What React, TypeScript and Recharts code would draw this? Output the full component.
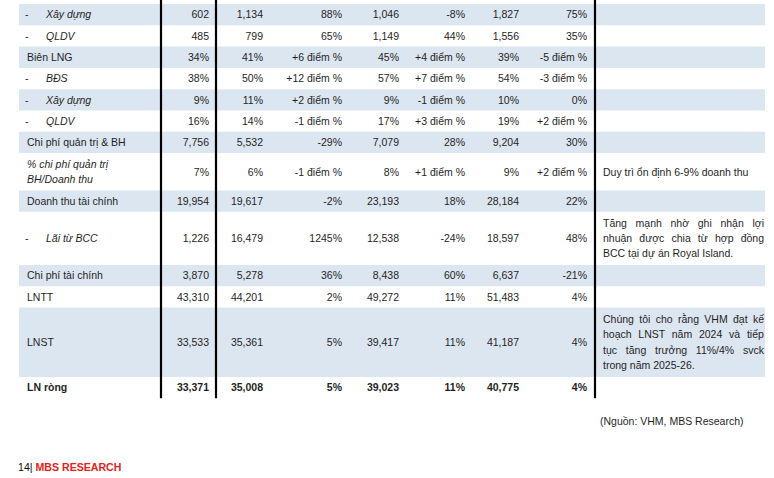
import { ComposedChart, XAxis, YAxis, Scatter, ReferenceArea, ReferenceLine } from 'recharts';

// ---- data ----
const rowLabels = [
  ['Xây dựng'], ['QLDV'], ['Biên LNG'], ['BĐS'], ['Xây dựng'], ['QLDV'],
  ['Chi phí quản trị & BH'], ['% chi phí quản trị', 'BH/Doanh thu'], ['Doanh thu tài chính'],
  ['Lãi từ BCC'], ['Chi phí tài chính'], ['LNTT'], ['LNST'], ['LN ròng'],
];
// sub = dash + italic, ratio = italic, total = bold
const rowKinds = ['sub', 'sub', 'main', 'sub', 'sub', 'sub', 'main', 'ratio', 'main', 'sub', 'main', 'main', 'main', 'total'];

const v2023 = ['602', '485', '34%', '38%', '9%', '16%', '7,756', '7%', '19,954', '1,226', '3,870', '43,310', '33,533', '33,371'];
const v2024 = ['1,134', '799', '41%', '50%', '11%', '14%', '5,532', '6%', '19,617', '16,479', '5,278', '44,201', '35,361', '35,008'];
const yoy2024 = ['88%', '65%', '+6 điểm %', '+12 điểm %', '+2 điểm %', '-1 điểm %', '-29%', '-1 điểm %', '-2%', '1245%', '36%', '2%', '5%', '5%'];
const v2025 = ['1,046', '1,149', '45%', '57%', '9%', '17%', '7,079', '8%', '23,193', '12,538', '8,438', '49,272', '39,417', '39,023'];
const yoy2025 = ['-8%', '44%', '+4 điểm %', '+7 điểm %', '-1 điểm %', '+3 điểm %', '28%', '+1 điểm %', '18%', '-24%', '60%', '11%', '11%', '11%'];
const v2026 = ['1,827', '1,556', '39%', '54%', '10%', '19%', '9,204', '9%', '28,184', '18,597', '6,637', '51,483', '41,187', '40,775'];
const yoy2026 = ['75%', '35%', '-5 điểm %', '-3 điểm %', '0%', '+2 điểm %', '30%', '+2 điểm %', '22%', '48%', '-21%', '4%', '4%', '4%'];
const valueColumns = [v2023, v2024, yoy2024, v2025, yoy2025, v2026, yoy2026];

const rowNotes: string[][] = [
  [], [], [], [], [], [], [],
  ['Duy trì ổn định 6-9% doanh thu'],
  [],
  ['Tăng mạnh nhờ ghi nhận lợi', 'nhuận được chia từ hợp đồng', 'BCC tại dự án Royal Island.'],
  [], [],
  ['Chúng tôi cho rằng VHM đạt kế', 'hoạch LNST năm 2024 và tiếp', 'tục tăng trưởng 11%/4% svck', 'trong năm 2025-26.'],
  [],
];

const sourceText = '(Nguồn: VHM, MBS Research)';
const pageNo = '14|';
const brand = ' MBS RESEARCH';

// ---- layout ----
const W = 774;
const H = 478;
const FONT = '"Liberation Sans", Arial, Helvetica, sans-serif';
const FS = 10.5;
const INK = '#1f1f1f';
const BAND = '#dce6f1';
const RED = '#e3231b';
const TABLE_LEFT = 19;
const TABLE_RIGHT = 765;
const TABLE_TOP = 4;
const LINE_H = 15.3;
const COL_RIGHT = [209, 263, 342, 399, 465, 519, 587];
const RULES_X = [161, 216, 595];
const NOTE_LEFT = 603;
const NOTE_RIGHT = 764;

const rowLines = rowLabels.map((l, i) => Math.max(l.length, rowNotes[i].length, 1));
const rowHeights = rowLines.map((n) => 5.3 + 16 * n);
const rowTops: number[] = [];
rowHeights.reduce((acc, h) => {
  rowTops.push(acc);
  return acc + h;
}, TABLE_TOP);
const rowMid = rowTops.map((t, i) => t + rowHeights[i] / 2);
const tableBottom = rowTops[rowTops.length - 1] + rowHeights[rowHeights.length - 1];

let ctx: CanvasRenderingContext2D | null = null;
function measure(s: string, font: string) {
  if (!ctx) ctx = document.createElement('canvas').getContext('2d');
  ctx!.font = font;
  return ctx!.measureText(s).width;
}

type Cell = {
  x: number;
  y: number;
  text: string;
  anchor?: 'start' | 'end';
  italic?: boolean;
  bold?: boolean;
  justify?: number;
  color?: string;
  size?: number;
  parts?: { text: string; color: string; bold?: boolean }[];
};

const labelCells: Cell[] = [];
rowLabels.forEach((lines, r) => {
  const kind = rowKinds[r];
  if (kind === 'sub') labelCells.push({ x: 25, y: rowMid[r], text: '-' });
  lines.forEach((t, i) => {
    labelCells.push({
      x: kind === 'sub' ? 46 : 27,
      y: rowMid[r] + (i - (lines.length - 1) / 2) * LINE_H,
      text: t,
      italic: kind === 'sub' || kind === 'ratio',
      bold: kind === 'total',
    });
  });
});

const valueCells: Cell[][] = valueColumns.map((col, c) =>
  col.map((t, r) => ({ x: COL_RIGHT[c], y: rowMid[r], text: t, anchor: 'end', bold: rowKinds[r] === 'total' }))
);

const noteCells: Cell[] = [];
rowNotes.forEach((lines, r) => {
  lines.forEach((t, i) => {
    noteCells.push({
      x: NOTE_LEFT,
      y: rowMid[r] + (i - (lines.length - 1) / 2) * LINE_H,
      text: t,
      justify: lines.length > 1 && i < lines.length - 1 ? NOTE_RIGHT - NOTE_LEFT : undefined,
    });
  });
});

const footerCells: Cell[] = [
  { x: 600, y: 421, text: sourceText },
  {
    x: 18,
    y: 467,
    text: pageNo + brand,
    size: 10.6,
    parts: [
      { text: pageNo, color: '#111' },
      { text: brand, color: RED, bold: true },
    ],
  },
];

const TextMark = (props: any) => {
  const p: Cell = props.payload ?? props;
  const size = p.size ?? FS;
  let wordSpacing: number | undefined;
  if (p.justify) {
    const font = `${p.italic ? 'italic ' : ''}${p.bold ? 'bold ' : ''}${size}px ${FONT}`;
    const gaps = p.text.split(' ').length - 1;
    const w = measure(p.text, font);
    if (gaps > 0) wordSpacing = (p.justify - w) / gaps;
  }
  return (
    <text
      x={props.cx}
      y={props.cy}
      dy="0.36em"
      textAnchor={p.anchor ?? 'start'}
      fontFamily={FONT}
      fontSize={size}
      fontStyle={p.italic ? 'italic' : 'normal'}
      fontWeight={p.bold ? 'bold' : 'normal'}
      fill={p.color ?? INK}
      style={wordSpacing !== undefined ? { wordSpacing: `${wordSpacing}px`, whiteSpace: 'pre' } : { whiteSpace: 'pre' }}
    >
      {p.parts
        ? p.parts.map((pt, i) => (
            <tspan key={i} fill={pt.color} fontWeight={pt.bold ? 'bold' : 'normal'}>
              {pt.text}
            </tspan>
          ))
        : p.text}
    </text>
  );
};

export default function App() {
  return (
    <div style={{ position: 'absolute', left: 0, top: 0, width: W, height: H, background: '#fff' }}>
      <ComposedChart width={W} height={H} margin={{ top: 0, right: 0, bottom: 0, left: 0 }}>
        <XAxis type="number" dataKey="x" domain={[0, W]} hide allowDataOverflow />
        <YAxis type="number" dataKey="y" domain={[0, H]} reversed hide allowDataOverflow />

        {rowTops.map((t, r) =>
          r % 2 === 0 ? (
            <ReferenceArea
              key={`band-${r}`}
              x1={TABLE_LEFT}
              x2={TABLE_RIGHT}
              y1={t}
              y2={t + rowHeights[r]}
              fill={BAND}
              fillOpacity={1}
              stroke="none"
              ifOverflow="visible"
            />
          ) : null
        )}

        {RULES_X.map((x) => (
          <ReferenceLine
            key={`rule-${x}`}
            segment={[{ x, y: 0 }, { x, y: tableBottom }]}
            stroke="#000"
            strokeWidth={2.2}
            ifOverflow="visible"
          />
        ))}

        <Scatter data={labelCells} dataKey="y" shape={TextMark} isAnimationActive={false} />
        {valueCells.map((cells, c) => (
          <Scatter key={`col-${c}`} data={cells} dataKey="y" shape={TextMark} isAnimationActive={false} />
        ))}
        <Scatter data={noteCells} dataKey="y" shape={TextMark} isAnimationActive={false} />
        <Scatter data={footerCells} dataKey="y" shape={TextMark} isAnimationActive={false} />
      </ComposedChart>
    </div>
  );
}
